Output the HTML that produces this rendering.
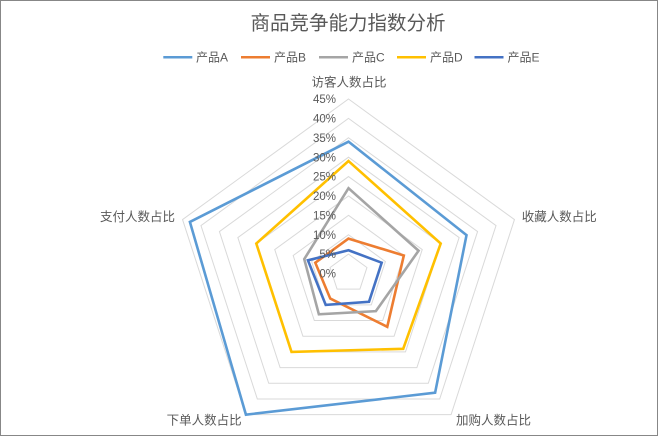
<!DOCTYPE html>
<html>
<head>
<meta charset="utf-8">
<style>
  html, body { margin: 0; padding: 0; background: #ffffff; }
  body { width: 658px; height: 436px; overflow: hidden; }
  svg { display: block; }
  text { font-family: "Liberation Sans", "Noto Sans CJK SC", sans-serif; fill: #595959; }
</style>
</head>
<body>
<svg width="658" height="436" viewBox="0 0 658 436" xmlns="http://www.w3.org/2000/svg">
  <rect x="0" y="0" width="658" height="436" fill="#ffffff"/>
  <rect x="0.5" y="0.5" width="657" height="435" fill="none" stroke="#878787" stroke-width="1"/>

  <!-- Title -->
  <text x="348" y="29.5" font-size="19.5" text-anchor="middle">商品竞争能力指数分析</text>

  <!-- Legend -->
  <g stroke-width="2.5" fill="none">
    <line x1="163.3" y1="57.3" x2="192.3" y2="57.3" stroke="#5B9BD5"/>
    <line x1="241" y1="57.3" x2="270" y2="57.3" stroke="#ED7D31"/>
    <line x1="319" y1="57.3" x2="348" y2="57.3" stroke="#A5A5A5"/>
    <line x1="397" y1="57.3" x2="426" y2="57.3" stroke="#FFC000"/>
    <line x1="474.5" y1="57.3" x2="503.5" y2="57.3" stroke="#4472C4"/>
  </g>
  <g font-size="12">
    <text x="196" y="61.6">产品A</text>
    <text x="274" y="61.6">产品B</text>
    <text x="352" y="61.6">产品C</text>
    <text x="430" y="61.6">产品D</text>
    <text x="507.5" y="61.6">产品E</text>
  </g>

  <!-- Radar grid and series -->
  <g transform="translate(348.5,273.5) scale(3.8778)">
    <g fill="none" stroke="#D9D9D9" stroke-width="1">
      <polygon vector-effect="non-scaling-stroke" points="0,-5 4.7553,-1.5451 2.9389,4.0451 -2.9389,4.0451 -4.7553,-1.5451"/>
      <polygon vector-effect="non-scaling-stroke" points="0,-10 9.5106,-3.0902 5.8779,8.0902 -5.8779,8.0902 -9.5106,-3.0902"/>
      <polygon vector-effect="non-scaling-stroke" points="0,-15 14.2659,-4.6353 8.8168,12.1353 -8.8168,12.1353 -14.2659,-4.6353"/>
      <polygon vector-effect="non-scaling-stroke" points="0,-20 19.0211,-6.1803 11.7557,16.1803 -11.7557,16.1803 -19.0211,-6.1803"/>
      <polygon vector-effect="non-scaling-stroke" points="0,-25 23.7764,-7.7254 14.6946,20.2254 -14.6946,20.2254 -23.7764,-7.7254"/>
      <polygon vector-effect="non-scaling-stroke" points="0,-30 28.5317,-9.2705 17.6336,24.2705 -17.6336,24.2705 -28.5317,-9.2705"/>
      <polygon vector-effect="non-scaling-stroke" points="0,-35 33.2870,-10.8156 20.5725,28.3156 -20.5725,28.3156 -33.2870,-10.8156"/>
      <polygon vector-effect="non-scaling-stroke" points="0,-40 38.0423,-12.3607 23.5114,32.3607 -23.5114,32.3607 -38.0423,-12.3607"/>
      <polygon vector-effect="non-scaling-stroke" points="0,-45 42.7975,-13.9058 26.4503,36.4058 -26.4503,36.4058 -42.7975,-13.9058"/>
    </g>
    <g fill="none" stroke-width="2.6" stroke-linejoin="miter">
      <polygon vector-effect="non-scaling-stroke" stroke="#5B9BD5" points="0,-34 30.434,-9.889 22.336,30.743 -26.4503,36.4058 -40.896,-13.288"/>
      <polygon vector-effect="non-scaling-stroke" stroke="#ED7D31" points="0,-9 14.266,-4.635 9.992,13.753 -4.702,6.472 -8.560,-2.781"/>
      <polygon vector-effect="non-scaling-stroke" stroke="#A5A5A5" points="0,-22 18.070,-5.871 7.053,9.708 -7.641,10.517 -11.413,-3.708"/>
      <polygon vector-effect="non-scaling-stroke" stroke="#FFC000" points="0,-29 23.776,-7.725 14.107,19.416 -14.695,20.225 -23.776,-7.725"/>
      <polygon vector-effect="non-scaling-stroke" stroke="#4472C4" points="0,-6 8.560,-2.781 5.290,7.281 -5.878,8.090 -10.462,-3.399"/>
    </g>
  </g>

  <!-- Tick labels -->
  <g font-size="11.5" text-anchor="end">
    <text x="336" y="277.6">0%</text>
    <text x="336" y="258.2">5%</text>
    <text x="336" y="238.8">10%</text>
    <text x="336" y="219.4">15%</text>
    <text x="336" y="200.0">20%</text>
    <text x="336" y="180.7">25%</text>
    <text x="336" y="161.3">30%</text>
    <text x="336" y="141.9">35%</text>
    <text x="336" y="122.5">40%</text>
    <text x="336" y="103.1">45%</text>
  </g>

  <!-- Axis category labels -->
  <g font-size="12.5">
    <text x="349" y="86.7" text-anchor="middle">访客人数占比</text>
    <text x="521.7" y="221">收藏人数占比</text>
    <text x="456" y="424.5">加购人数占比</text>
    <text x="241.7" y="424.5" text-anchor="end">下单人数占比</text>
    <text x="175" y="221" text-anchor="end">支付人数占比</text>
  </g>
</svg>
</body>
</html>
